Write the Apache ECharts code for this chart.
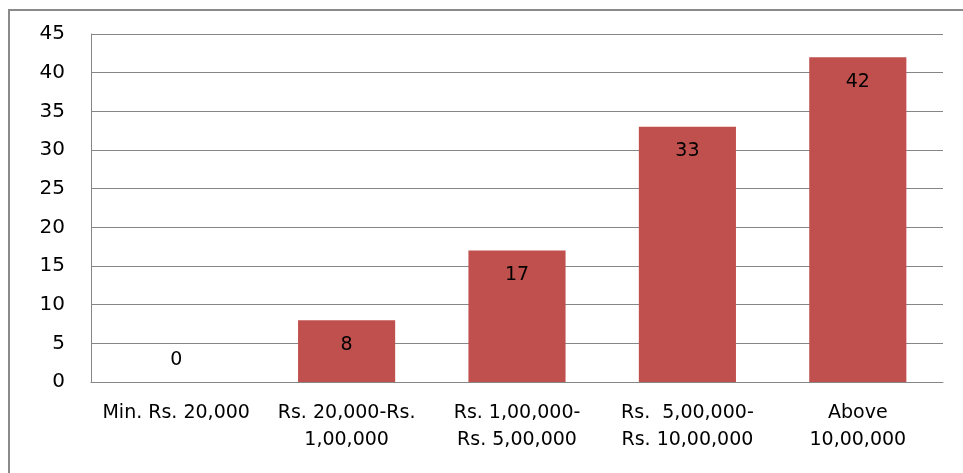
<!DOCTYPE html>
<html>
<head>
<meta charset="utf-8">
<script src="https://cdn.jsdelivr.net/npm/echarts@6/dist/echarts.min.js"></script>
<style>
  html, body { margin: 0; padding: 0; background: #fff; }
  #chart { width: 963px; height: 473px; }
</style>
</head>
<body>
<div id="chart"></div>
<script>
const categories = ['Min. Rs. 20,000', 'Rs. 20,000-Rs.\n1,00,000', 'Rs. 1,00,000-\nRs. 5,00,000', 'Rs.  5,00,000-\nRs. 10,00,000', 'Above\n10,00,000']
const values = [0, 8, 17, 33, 42]
const yTicks = { min: 0, max: 45, interval: 5 }

const font = 'DejaVu Sans'
const chart = echarts.init(document.getElementById('chart'))

// 0 值的标签放在轴线上方
const seriesData = values.map(v => v === 0
  ? { value: v, label: { position: 'top', distance: 12 } }
  : v)

chart.setOption({
  animation: false,
  graphic: [{
    type: 'rect',
    shape: { x: 9, y: 10, width: 1000, height: 500 },
    style: { fill: 'none', stroke: '#8a8a8a', lineWidth: 2 }
  }],
  grid: { left: 91, right: 20, top: 34, bottom: 91 },
  xAxis: {
    type: 'category',
    data: categories,
    axisTick: { show: false },
    axisLine: { lineStyle: { color: '#868686', width: 1 } },
    axisLabel: { color: '#000', fontFamily: font, fontSize: 19, margin: 18, lineHeight: 27, interval: 0 }
  },
  yAxis: {
    type: 'value',
    min: yTicks.min,
    max: yTicks.max,
    interval: yTicks.interval,
    axisLine: { show: true, lineStyle: { color: '#868686', width: 1 } },
    axisTick: { show: false },
    splitLine: { lineStyle: { color: '#868686', width: 1 } },
    axisLabel: { color: '#000', fontFamily: font, fontSize: 20, margin: 26 }
  },
  series: [{
    type: 'bar',
    data: seriesData,
    barWidth: '57%',
    itemStyle: { color: '#C0504D' },
    label: {
      show: true,
      position: 'insideTop',
      distance: 15,
      color: '#000',
      fontFamily: font,
      fontSize: 19
    }
  }]
})
</script>
</body>
</html>
